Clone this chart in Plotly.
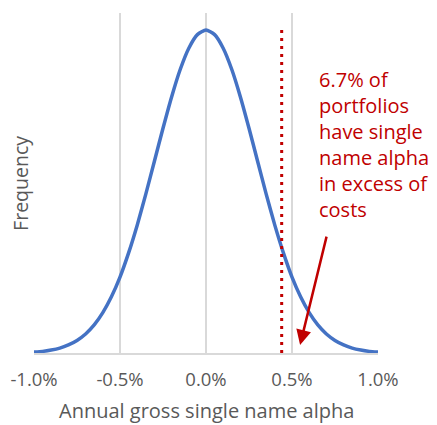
import plotly.graph_objects as go

# Annual gross single name alpha (%), relative frequency
alpha_pct = [-1.0, -0.95, -0.9, -0.85, -0.8, -0.75, -0.7, -0.65, -0.6, -0.55, -0.5,
             -0.45, -0.4, -0.35, -0.3, -0.25, -0.2, -0.15, -0.1, -0.05, 0.0,
             0.05, 0.1, 0.15, 0.2, 0.25, 0.3, 0.35, 0.4, 0.45, 0.5,
             0.55, 0.6, 0.65, 0.7, 0.75, 0.8, 0.85, 0.9, 0.95, 1.0]
frequency = [0.003, 0.005, 0.009, 0.015, 0.025, 0.039, 0.059, 0.087, 0.125, 0.174, 0.235,
             0.310, 0.396, 0.492, 0.594, 0.696, 0.793, 0.878, 0.944, 0.986, 1.0,
             0.986, 0.944, 0.878, 0.793, 0.696, 0.594, 0.492, 0.396, 0.310, 0.235,
             0.174, 0.125, 0.087, 0.059, 0.039, 0.025, 0.015, 0.009, 0.005, 0.003]

cost_threshold = 0.44
tick_vals = [-1.0, -0.5, 0.0, 0.5, 1.0]
tick_text = ["-1.0%", "-0.5%", "0.0%", "0.5%", "1.0%"]
note_text = "6.7% of<br>portfolios<br>have single<br>name alpha<br>in excess of<br>costs"

grey = "#595959"
red = "#C00000"
font_family = "'Open Sans', Lato, sans-serif"

fig = go.Figure()
fig.add_trace(go.Scatter(
    x=alpha_pct, y=frequency, mode="lines",
    line=dict(color="#4472C4", width=3.5, shape="spline", smoothing=0.6),
    hoverinfo="skip", showlegend=False, cliponaxis=False,
))
fig.add_trace(go.Scatter(
    x=[cost_threshold, cost_threshold], y=[1.0, -0.006], mode="lines",
    line=dict(color=red, width=3, dash="3px,5px"),
    hoverinfo="skip", showlegend=False, cliponaxis=False,
))

fig.add_annotation(
    x=0.547, y=0.025, ax=0.703, ay=0.365,
    xref="x", yref="y", axref="x", ayref="y",
    showarrow=True, arrowhead=2, arrowsize=1.2, arrowwidth=2.5, arrowcolor=red,
    text="",
)
fig.add_annotation(
    x=0.645, y=0.894, xref="x", yref="y", xanchor="left", yanchor="top",
    text=note_text, showarrow=False, align="left",
    font=dict(family=font_family, size=20, color=red),
)
fig.add_annotation(
    x=0.5, y=-0.168, xref="paper", yref="paper", xanchor="center", yanchor="middle",
    text="Annual gross single name alpha", showarrow=False,
    font=dict(family=font_family, size=20, color=grey),
)
fig.add_annotation(
    x=-0.041, y=0.5, xref="paper", yref="paper", xanchor="center", yanchor="middle",
    text="Frequency", showarrow=False, textangle=-90,
    font=dict(family=font_family, size=19.5, color=grey),
)

fig.update_layout(
    width=429, height=417,
    margin=dict(l=26, r=59, t=5, b=72),
    paper_bgcolor="white", plot_bgcolor="white",
    font=dict(family=font_family, color=grey),
    xaxis=dict(
        range=[-1.0, 1.0], tickvals=tick_vals, ticktext=tick_text,
        showgrid=True, gridcolor="#D9D9D9", gridwidth=1.5,
        zeroline=False, showline=True, linecolor="#D9D9D9", linewidth=1.5,
        ticks="", tickfont=dict(size=18.5, color=grey), automargin=False,
        ticklabelstandoff=9,
    ),
    yaxis=dict(
        range=[0, 1.053], showgrid=False, zeroline=False, showline=False,
        showticklabels=False, ticks="", automargin=False,
    ),
)

fig.write_html("out.html")
